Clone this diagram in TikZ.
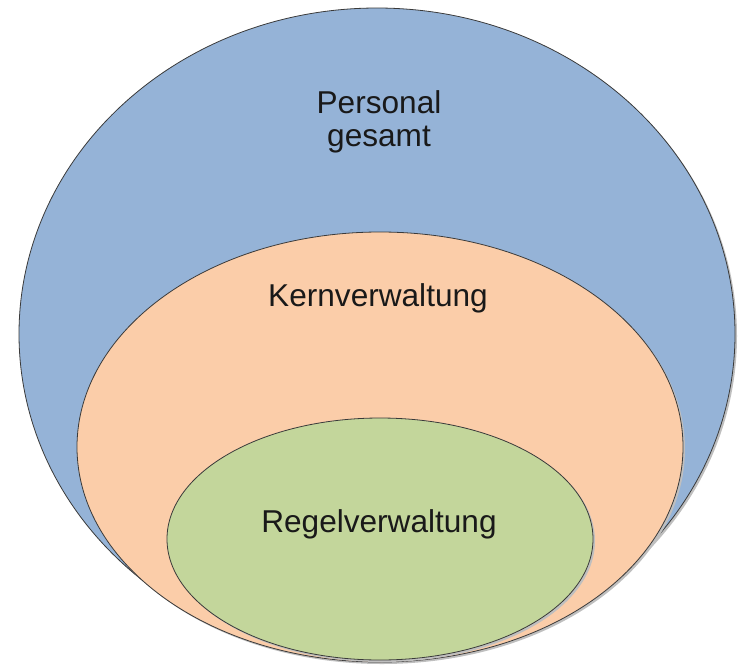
\documentclass[tikz,border=0pt]{standalone}
\usepackage{fontspec}
\setmainfont{Liberation Sans}
\usetikzlibrary{shapes.geometric}
\definecolor{blueset}{HTML}{95B3D7}
\definecolor{peachset}{HTML}{FBCDA9}
\definecolor{greenset}{HTML}{C3D69B}
\definecolor{edgeset}{HTML}{3A3A3A}
\tikzset{
  setshape/.style={ellipse, draw=edgeset, line width=0.8pt, inner sep=0pt, minimum width=#1},
  shadowset/.style={fill=black!25, draw=none},
  lbl/.style={font=\fontsize{31.6}{33}\selectfont, align=center, text=black!90}
}
\begin{document}
\begin{tikzpicture}[x=1pt,y=-1pt]
\useasboundingbox (0,0) rectangle (739,670);
% shadows
\fill[shadowset] (379,336) ellipse [x radius=358, y radius=326];
\node[setshape=716pt, minimum height=652pt, fill=blueset] (all) at (377,334) {};
\fill[shadowset] (382,449) ellipse [x radius=303, y radius=215];
\node[setshape=606pt, minimum height=430pt, fill=peachset] (kern) at (380,447) {};
\fill[shadowset] (382,541) ellipse [x radius=213, y radius=121];
\node[setshape=426pt, minimum height=242pt, fill=greenset] (regel) at (380,539) {};
\node[lbl] (tall) at (379,122) {Personal\\gesamt};
\node[lbl] (tkern) at (378,298) {Kernverwaltung};
\node[lbl] (tregel) at (379,524) {Regelverwaltung};
\end{tikzpicture}
\end{document}
